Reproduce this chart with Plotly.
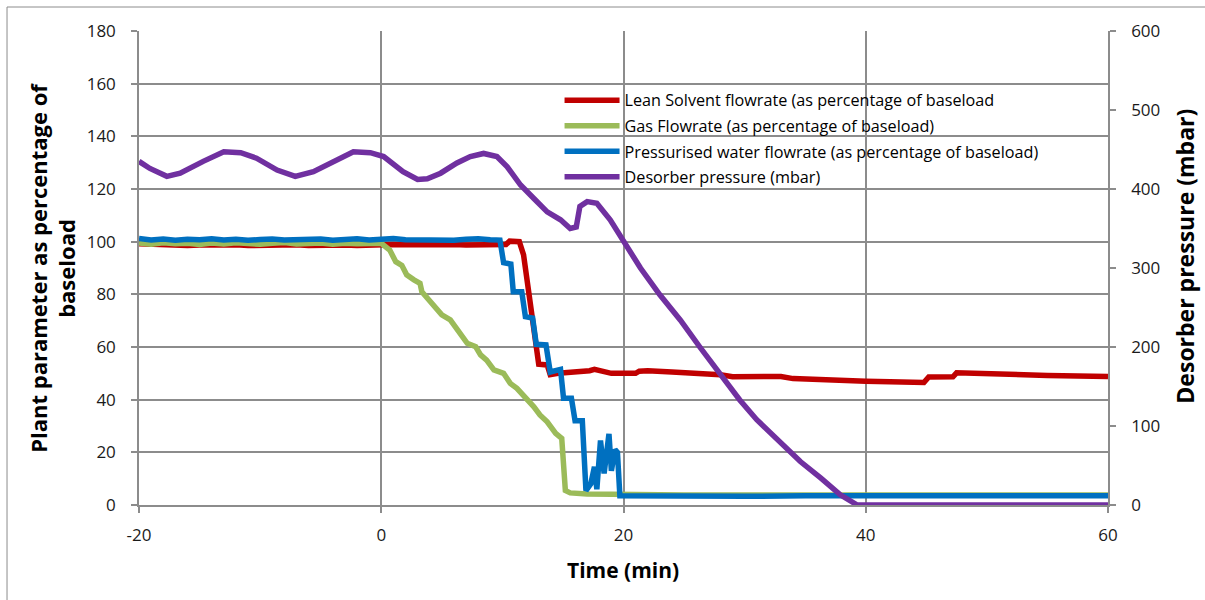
import plotly.graph_objects as go

# ---------------- data ----------------
lean_t = [-20, -19, -18, -17, -16, -15, -14, -13, -12, -11, -10, -9, -8, -7, -6, -5, -4, -3, -2, -1,
          0, 1, 2, 3, 4, 5, 6, 7, 8, 9, 9.8, 10.3, 10.6, 11.4, 11.75, 12.3, 12.7, 13.0, 13.7, 13.95,
          14.6, 15.6, 16.5, 17.2, 17.6, 18.0, 18.5, 19.0, 20.0, 21.0, 21.3, 22.0, 24.0, 26.0, 28.0,
          29.0, 31.0, 32.0, 33.0, 34.0, 36.0, 38.0, 40.0, 42.0, 44.3, 44.8, 45.2, 47.2, 47.5, 50.0,
          55.0, 60.0]
lean_v = [99.2, 98.9, 98.6, 98.8, 98.5, 98.7, 98.9, 98.6, 98.8, 98.5, 98.7, 98.4, 98.6, 98.8, 98.5,
          98.6, 98.9, 98.7, 98.5, 98.8, 99.0, 98.9, 98.8, 98.9, 98.7, 98.8, 98.9, 98.7, 98.8, 98.7,
          98.6, 98.9, 100.2, 100.0, 95.0, 77.0, 63.0, 53.5, 53.2, 49.5, 50.0, 50.2, 50.8, 51.0, 51.5,
          51.0, 50.2, 50.0, 50.0, 50.0, 50.8, 51.0, 50.5, 50.2, 49.5, 48.7, 48.7, 48.5, 48.8, 48.0,
          47.5, 47.3, 47.0, 46.8, 46.2, 46.5, 48.6, 48.7, 50.2, 49.8, 49.2, 48.8]

gas_t = [-20, -19, -18, -17, -16, -15, -14, -13, -12, -11, -10, -9, -8, -7, -6, -5, -4, -3, -2, -1,
         0, 0.7, 1.2, 1.7, 2.1, 2.7, 3.2, 3.35, 4.05, 4.5, 5.0, 5.7, 6.25, 7.1, 7.8, 8.2, 8.7, 9.3,
         10.1, 10.65, 11.2, 12.0, 12.6, 13.1, 13.7, 14.4, 14.9, 15.2, 15.6, 17, 20, 25, 30, 35, 40,
         45, 50, 55, 60]
gas_v = [99.5, 99.0, 99.6, 99.2, 99.4, 98.9, 99.5, 99.1, 99.6, 99.2, 99.0, 99.4, 99.7, 99.1, 99.3,
         99.5, 99.0, 99.4, 99.2, 99.5, 99.4, 96.8, 92.4, 91.0, 87.4, 85.5, 84.2, 81.0, 77.2, 75.3,
         72.2, 70.3, 66.5, 61.4, 60.1, 57.0, 55.0, 51.3, 50.0, 46.2, 44.3, 40.5, 37.3, 34.2, 31.6,
         27.2, 25.3, 5.5, 4.6, 4.2, 3.9, 3.8, 3.8, 3.8, 3.9, 3.8, 3.8, 3.9, 3.8]

water_t = [-20, -19, -18, -17, -16, -15, -14, -13, -12, -11, -10, -9, -8, -7, -6, -5, -4, -3, -2, -1,
           0, 1, 2, 3, 4, 5, 6, 7, 8, 9, 9.8, 10.1, 10.7, 10.9, 11.6, 11.9, 12.5, 12.8, 13.6, 13.95,
           14.8, 15.05, 15.7, 16.0, 16.6, 16.9, 17.3, 17.6, 17.8, 18.1, 18.4, 18.8, 19.0, 19.3, 19.5,
           19.7, 22, 25, 30, 35, 40, 45, 50, 55, 60]
water_v = [101.2, 100.6, 101.0, 100.5, 100.9, 100.7, 101.1, 100.6, 100.9, 100.5, 100.8, 101.0,
           100.6, 100.9, 100.7, 101.0, 100.5, 100.8, 101.1, 100.6, 100.9, 101.2, 100.7, 100.6,
           101.0, 100.8, 100.5, 100.9, 101.1, 100.7, 100.6, 92.0, 91.5, 81.0, 81.0, 71.5, 71.0,
           61.0, 60.8, 50.5, 51.5, 40.5, 40.5, 32.0, 32.0, 5.5, 8.0, 14.5, 6.0, 24.5, 12.0, 27.0,
           13.0, 21.0, 20.0, 3.5, 3.4, 3.5, 3.3, 3.5, 3.4, 3.5, 3.3, 3.4, 3.5]

press_t = [-20, -19.1, -17.7, -16.6, -14.7, -13.0, -11.6, -10.3, -8.6, -7.1, -5.6, -3.7, -2.3, -0.9,
           0.2, 1.8, 3.0, 3.8, 4.9, 6.25, 7.35, 8.45, 9.55, 10.4, 11.5, 12.6, 13.7, 14.8, 15.6, 16.1,
           16.4, 17.0, 17.8, 18.9, 20.0, 21.4, 23.0, 24.7, 26.3, 28.0, 29.6, 31.0, 32.7, 34.6, 36.3,
           37.9, 39.3, 45, 50, 55, 60]
press_v = [435, 426, 416, 420, 435, 447, 446, 439, 424, 416, 422, 437, 447, 446, 441, 422, 412, 413,
           420, 433, 441, 445, 441, 428, 405, 388, 371, 361, 350, 352, 378, 384, 382, 361, 333, 300,
           266, 234, 200, 165, 133, 108, 82, 55, 34, 13, 0, 0, 0, 0, 0]

series_names = ["Lean Solvent flowrate (as percentage of baseload",
                "Gas Flowrate (as percentage of baseload)",
                "Pressurised water flowrate (as percentage of baseload)",
                "Desorber pressure (mbar)"]
colors = ["#C00000", "#9BBB59", "#0070C0", "#7030A0"]

x_ticks = [-20, 0, 20, 40, 60]
x_ticklabels = ["-20", "0", "20", "40", "60"]
y_ticks = [0, 20, 40, 60, 80, 100, 120, 140, 160, 180]
y2_ticks = [0, 100, 200, 300, 400, 500, 600]

# ---------------- figure ----------------
FONT = "Open Sans"
GRID = "#8c8c8c"
fig = go.Figure()
data = [(lean_t, lean_v, "y"), (gas_t, gas_v, "y"), (water_t, water_v, "y"), (press_t, press_v, "y2")]
for i, (t, v, ax) in enumerate(data):
    fig.add_trace(go.Scatter(x=t, y=v, mode="lines", name=series_names[i], yaxis=ax,
                             legendgroup=str(i), cliponaxis=False,
                             line=dict(color=colors[i], width=5.5)))

axis_common = dict(showline=True, linecolor=GRID, linewidth=1.5, ticks="outside", ticklen=6,
                   tickcolor=GRID, tickwidth=1.5,
                   tickfont=dict(family=FONT, size=17, color="#1a1a1a"), zeroline=False)

fig.update_layout(
    width=1205, height=600,
    margin=dict(l=139, r=97, t=31, b=95),
    paper_bgcolor="white", plot_bgcolor="white",
    showlegend=True,
    legend=dict(x=0.434, y=0.89, xanchor="left", yanchor="top", bgcolor="rgba(0,0,0,0)",
                font=dict(family=FONT, size=16.2, color="#000000"), itemwidth=55,
                traceorder="grouped", tracegroupgap=1.5),
    xaxis=dict(range=[-20, 60], tickvals=x_ticks, ticktext=x_ticklabels, showgrid=True,
               gridcolor=GRID, gridwidth=1.5, ticklabelstandoff=8, **axis_common),
    yaxis=dict(range=[0, 180], tickvals=y_ticks, showgrid=True, gridcolor=GRID, gridwidth=1.5,
               ticklabelstandoff=12, **axis_common),
    yaxis2=dict(range=[0, 600], tickvals=y2_ticks, overlaying="y", side="right", showgrid=False,
                ticklabelstandoff=12, **axis_common),
    annotations=[
        dict(text="Time (min)", xref="paper", yref="paper", x=0.499, y=-0.137, showarrow=False,
             font=dict(family=FONT, size=21, color="#000000", weight="bold"), xanchor="center", yanchor="middle"),
        dict(text="Plant parameter as percentage of<br>baseload", xref="paper", yref="paper",
             x=-0.09, y=0.5, showarrow=False, textangle=-90,
             font=dict(family=FONT, size=22, color="#000000", weight="bold"), xanchor="center", yanchor="middle"),
        dict(text="Desorber pressure (mbar)", xref="paper", yref="paper", x=1.08, y=0.525,
             showarrow=False, textangle=-90,
             font=dict(family=FONT, size=23, color="#000000", weight="bold"), xanchor="center", yanchor="middle"),
    ],
    shapes=[
        dict(type="line", xref="paper", yref="paper", x0=-0.1362, x1=1.2, y0=1.0506, y1=1.0506,
             line=dict(color="#8c8c8c", width=1)),
        dict(type="line", xref="paper", yref="paper", x0=-0.1362, x1=-0.1362, y0=1.0506, y1=-0.4,
             line=dict(color="#8c8c8c", width=1)),
    ],
)

fig.write_html("out.html")
